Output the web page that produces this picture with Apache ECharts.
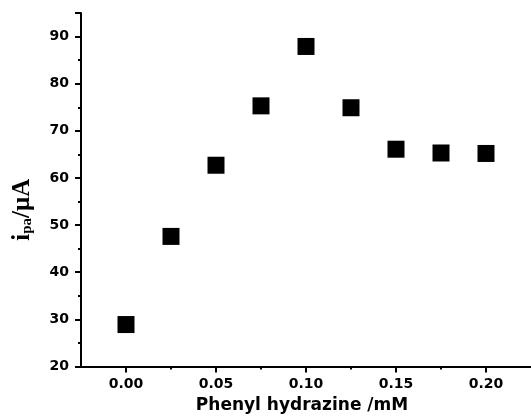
<!DOCTYPE html>
<html>
<head>
<meta charset="utf-8">
<script src="https://cdn.jsdelivr.net/npm/echarts@6/dist/echarts.min.js"></script>
<style>
html,body{margin:0;padding:0;background:#fff;}
#chart{width:531px;height:420px;}
</style>
</head>
<body>
<div id="chart"></div>
<script>
const concentrations = [0.000, 0.025, 0.050, 0.075, 0.100, 0.125, 0.150, 0.175, 0.200];
const currents = [28.9, 47.6, 62.7, 75.3, 87.9, 74.9, 66.1, 65.3, 65.2];
const xMajorTicks = [0.00, 0.05, 0.10, 0.15, 0.20];
const xMinorTicks = [0.025, 0.075, 0.125, 0.175];
const xTitle = 'Phenyl hydrazine /mM';

const chart = echarts.init(document.getElementById('chart'), null, {renderer: 'canvas'});
const sansFont = '"DejaVu Sans", "Liberation Sans", Arial, sans-serif';
const serifFont = '"Liberation Serif", "Times New Roman", serif';
const axisFont = {fontFamily: sansFont, fontWeight: 'bold', fontSize: 14, color: '#000'};
const option = {
  backgroundColor: '#fff',
  animation: false,
  grid: {left: 81, top: 13, width: 457, height: 353.5, containLabel: false},
  xAxis: [{
    type: 'value', min: -0.025, max: 0.225,
    name: xTitle, nameLocation: 'middle', nameGap: 31,
    nameTextStyle: {fontFamily: sansFont, fontWeight: 'bold', fontSize: 17, color: '#000', padding: [0, 8, 0, 0]},
    axisLine: {show: true, onZero: false, lineStyle: {color: '#000', width: 2}},
    axisTick: {show: true, inside: false, length: 6, lineStyle: {color: '#000', width: 2}, customValues: xMajorTicks},
    axisLabel: Object.assign({margin: 11, customValues: xMajorTicks, formatter: v => v.toFixed(2)}, axisFont),
    splitLine: {show: false}
  }, {
    type: 'value', min: -0.025, max: 0.225, position: 'bottom',
    axisLine: {show: false},
    axisTick: {show: true, inside: false, length: 3, lineStyle: {color: '#000', width: 2}, customValues: xMinorTicks},
    axisLabel: {show: false},
    splitLine: {show: false}
  }],
  yAxis: {
    type: 'value', min: 20, max: 95, interval: 10,
    name: '{i|i}{sub|pa}{i|/μA}', nameLocation: 'middle', nameGap: 46, nameRotate: 90,
    nameTextStyle: {
      padding: [0, 40, 0, 0],
      rich: {
        i: {fontFamily: serifFont, fontWeight: 'bold', fontSize: 25, color: '#000', verticalAlign: 'bottom'},
        sub: {fontFamily: serifFont, fontWeight: 'bold', fontSize: 15, color: '#000', verticalAlign: 'bottom', padding: [9, 0, 0, 0]}
      }
    },
    axisLine: {show: true, onZero: false, lineStyle: {color: '#000', width: 2}},
    axisTick: {show: true, inside: false, length: 6, lineStyle: {color: '#000', width: 2}},
    minorTick: {show: true, splitNumber: 2, length: 3, lineStyle: {color: '#000', width: 2}},
    axisLabel: Object.assign({margin: 12, formatter: v => (v % 10 === 0 ? String(v) : '')}, axisFont),
    splitLine: {show: false}
  },
  series: [{
    type: 'scatter',
    xAxisIndex: 0,
    symbol: 'rect', symbolSize: 17,
    itemStyle: {color: '#000', opacity: 1},
    data: concentrations.map((c, i) => [c, currents[i]])
  }]
};
chart.setOption(option);
</script>
</body>
</html>
